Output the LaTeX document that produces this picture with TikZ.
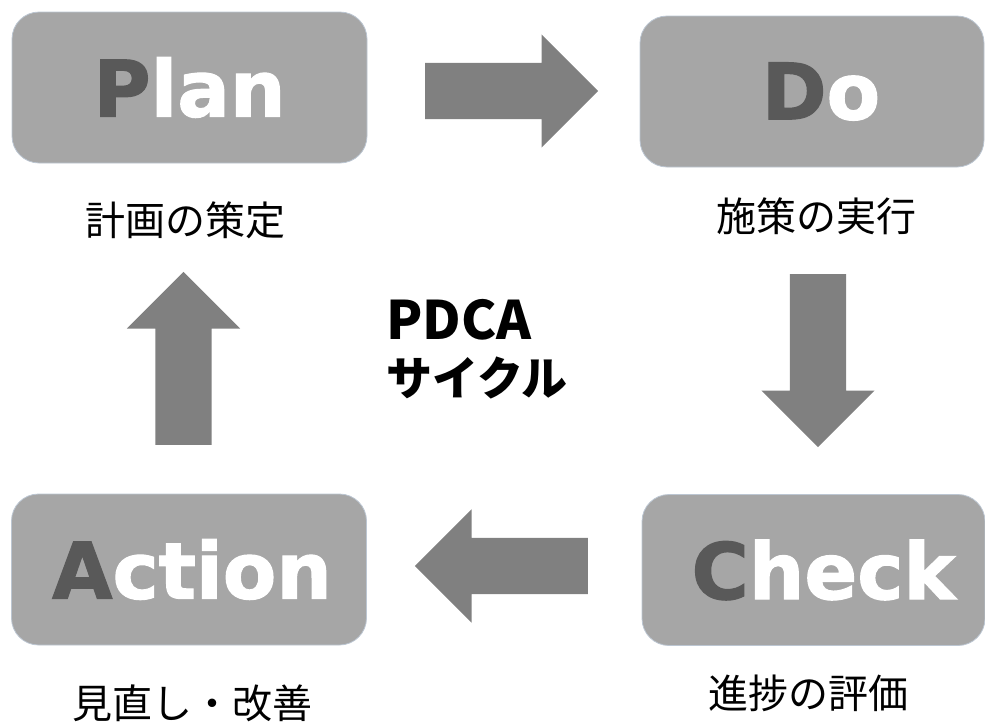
\documentclass[tikz,border=0pt]{standalone}
\usepackage{fontspec}
\usepackage{xcolor}
\usepackage{tikz}
\usetikzlibrary{shapes.arrows,positioning}
\newfontfamily\jpfont{Noto Sans CJK JP}
\newfontfamily\headfont{DejaVu Sans}[UprightFont=* Bold,FakeBold=1.5]
\definecolor{boxgray}{HTML}{A6A6A6}
\definecolor{inkgray}{HTML}{595959}
\definecolor{arrowgray}{HTML}{808080}
\definecolor{edgegray}{HTML}{BCC6D2}
\newcommand{\first}[1]{\textcolor{inkgray}{#1}}
\tikzset{
  phase/.style={fill=boxgray,draw=edgegray,line width=0.8pt,rounded corners=27pt,minimum width=355pt,minimum height=151pt,inner sep=0pt,text=white,font=\headfont\fontsize{78}{78}\selectfont},
  note/.style={font=\jpfont\fontsize{40}{48}\selectfont,inner sep=0pt},
  flow/.style={single arrow,fill=arrowgray,inner xsep=0pt,inner ysep=28pt,single arrow head extend=28.5pt,single arrow tip angle=90,minimum height=173pt,anchor=tail},
}

\begin{document}
\begin{tikzpicture}[x=1pt,y=-1pt]
\useasboundingbox (0,0) rectangle (985,724);
\node[phase] (plan) at (189.5,87.5) {\first{P}lan};
\node[phase,minimum width=344pt] (do) at (812,91.5) {\hspace*{18pt}\first{D}o};
\node[phase,minimum width=343pt] (check) at (813.5,570) {\hspace*{20pt}\first{C}heck};
\node[phase] (act) at (189,569.5) {\hspace*{6pt}\first{A}ction};
\node[note] (planlbl) at (185,220) {計画の策定};
\node[note] (dolbl) at (816,216) {施策の実行};
\node[note] (chklbl) at (808,693) {進捗の評価};
\node[note] (actlbl) at (192,703) {見直し・改善};
% block arrows round the cycle
\node[flow] (a1) at (425,91) {};
\node[flow,rotate=-90] (a2) at (818,274) {};
\node[flow,rotate=180] (a3) at (588,566) {};
\node[flow,rotate=90] (a4) at (183.5,445) {};
\node[align=left,inner sep=0pt,font=\jpfont\bfseries\fontsize{46}{56}\selectfont] (cycle) at (477,349) {{\fontsize{53}{56}\selectfont PDCA}\\サイクル};
\end{tikzpicture}
\end{document}
